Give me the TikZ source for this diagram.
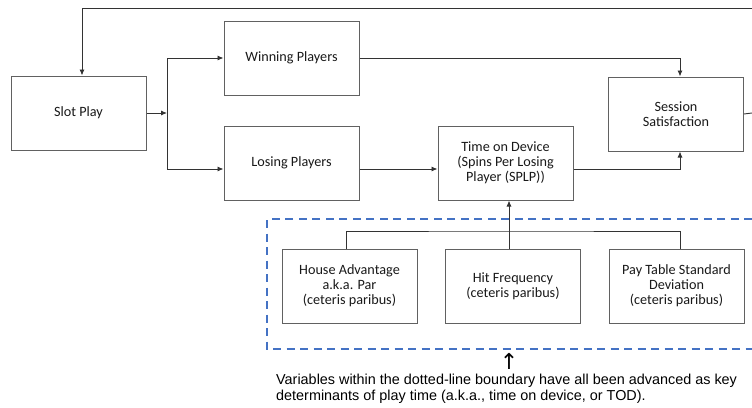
\documentclass[tikz,border=0pt]{standalone}
\usepackage{fontspec}
\setmainfont{Carlito}
\newfontfamily\arialfont{Liberation Sans}
\newfontfamily\symfont{DejaVu Sans}
\usetikzlibrary{arrows.meta}
\definecolor{dashblue}{HTML}{4472C4}
\tikzset{
  blk/.style={draw=black!62, line width=1pt, minimum width=135pt, minimum height=74pt,
    inner sep=0pt, align=center, font=\fontsize{14.2}{15}\selectfont, text=black!90},
  conn/.style={draw=black!80, line width=0.9pt},
  arr/.style={conn, -{Latex[length=6pt,width=5pt]}},
  bound/.style={draw=dashblue, line width=1.8pt, dash pattern=on 8pt off 5.5pt},
}
\begin{document}
\begin{tikzpicture}[x=1pt,y=-1pt]
\useasboundingbox (0,0) rectangle (752,407);
% boxes
\node[blk] (slot) at (78.5,113) {Slot Play};
\node[blk] (win) at (291.5,58) {Winning Players};
\node[blk] (lose) at (291.5,163) {Losing Players};
\node[blk] (tod) at (505.5,163) {Time on Device\\(Spins Per Losing\\Player (SPLP))};
\node[blk] (sess) at (676,114) {Session\\Satisfaction};
\node[blk] (house) at (349.5,286) {House Advantage\\a.k.a. Par\\(ceteris paribus)};
\node[blk] (hit) at (513,286) {Hit Frequency\\(ceteris paribus)};
\node[blk] (pay) at (676.5,286) {Pay Table Standard\\Deviation\\(ceteris paribus)};
% free coordinates
\coordinate (topR) at (752,8);
\coordinate (sessR) at (752,113);
\coordinate (jn) at (167,113);
\coordinate (bar) at (509,231);
% connectors
\draw[arr] (topR) -| ([xshift=3.5pt]slot.north);
\draw[arr] (slot.east) -- (jn);
\draw[arr] (jn) |- (win.west);
\draw[arr] (jn) |- ([yshift=-6pt]lose.west);
\draw[arr] (win.east) -| ([xshift=4pt]sess.north);
\draw[arr] ([yshift=-6pt]lose.east) -- ([yshift=-6pt]tod.west);
\draw[arr] ([yshift=-6pt]tod.east) -| ([xshift=4pt]sess.south);
\draw[conn] (sess.east) -- (sessR);
\draw[arr] ([xshift=-4pt]hit.north) -- ([xshift=3.5pt]tod.south);
\draw[conn] ([xshift=-3.5pt]house.north) |- (bar) -| ([xshift=3.5pt]pay.north);
% dashed boundary
\draw[bound] (752,219) -- (267,219) -- (267,349) -- (752,349);
% note
\node[font=\symfont\fontsize{22}{22}\selectfont, text=black, inner sep=0pt, anchor=south] (up) at (509,369.5) {↑};
\node[font=\arialfont\fontsize{14.4}{16}\selectfont, text=black, align=left, anchor=north west, inner sep=0pt] (note) at (276,374)
  {Variables within the dotted-line boundary have all been advanced as key\\determinants of play time (a.k.a., time on device, or TOD).};
\end{tikzpicture}
\end{document}
